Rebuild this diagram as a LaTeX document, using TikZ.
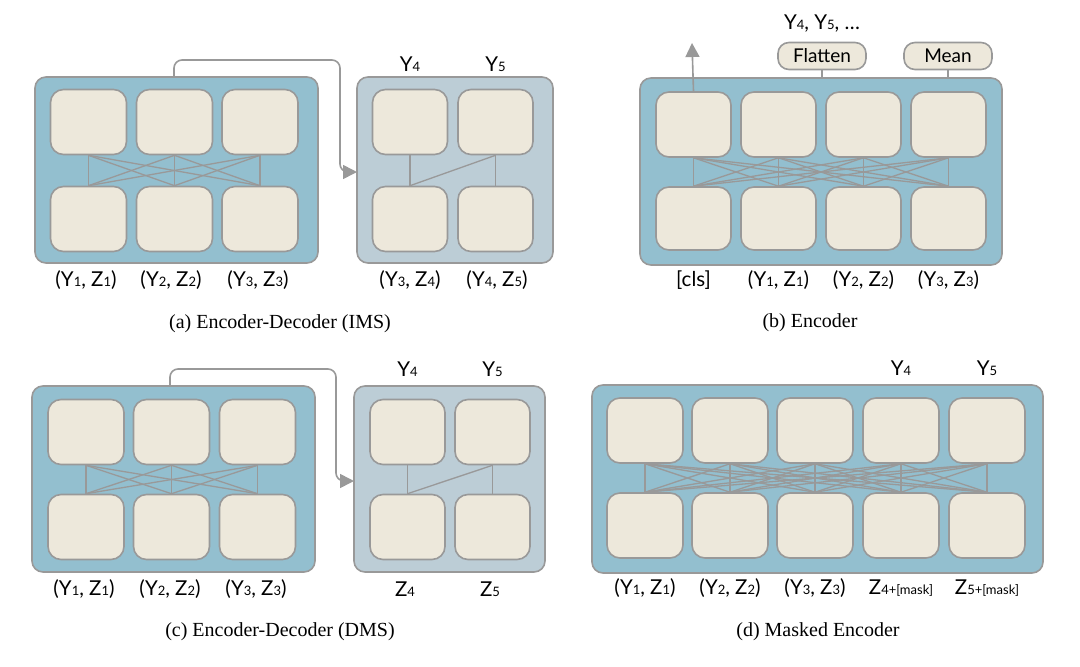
\documentclass[tikz,border=0pt]{standalone}
\usepackage{fontspec}
\setmainfont{Liberation Serif}
\newfontfamily\lab{Lato}
\usetikzlibrary{arrows.meta}
\definecolor{encb}{HTML}{93BFCF}
\definecolor{decb}{HTML}{BCCDD6}
\definecolor{cellc}{HTML}{EDE8DB}
\definecolor{gr}{HTML}{999999}
\newcommand{\ix}[1]{{\fontsize{13}{13}\selectfont #1}}
\tikzset{
 outer/.style={draw=gr,line width=1.6pt,fill=encb,rounded corners=11pt},
 dec/.style={draw=gr,line width=1.6pt,fill=decb,rounded corners=11pt},
 cell/.style={draw=gr,line width=1.6pt,fill=cellc,rounded corners=13pt,minimum width=76pt,minimum height=65pt,inner sep=0pt},
 pill/.style={draw=gr,line width=1.6pt,fill=cellc,rounded corners=11pt,minimum width=88pt,minimum height=27pt,font=\lab\fontsize{19}{19}\selectfont},
 link/.style={draw=gr,line width=1.3pt},
 lbl/.style={font=\lab\fontsize{20.5}{20.5}\selectfont,inner sep=0pt},
 captxt/.style={font=\fontsize{20}{20}\selectfont,inner sep=0pt},
 arr/.style={draw=gr,line width=1.6pt,rounded corners=8pt,-{Triangle[length=14pt,width=14pt]}}
}
\begin{document}
\begin{tikzpicture}[x=1pt,y=-1pt]
\useasboundingbox (0,0) rectangle (1080,667);
% ---------- (a) ----------
\node[outer,minimum width=283pt,minimum height=186pt] (aE) at (176.5,170) {};
\node[dec,minimum width=196pt,minimum height=186pt] (aD) at (455,170) {};
\foreach \i/\x in {1/88.5,2/174.5,3/260}{
 \node[cell] (at\i) at (\x,122) {};
 \node[cell] (ab\i) at (\x,219) {};}
\foreach \i in {1,2,3}{\foreach \j in {1,2,3}{\draw[link] (at\i.south) -- (ab\j.north);}}
\node[cell,minimum width=75pt] (adt1) at (410,122) {};
\node[cell,minimum width=75pt] (adt2) at (495.5,122) {};
\node[cell,minimum width=75pt] (adb1) at (410,219) {};
\node[cell,minimum width=75pt] (adb2) at (495.5,219) {};
\draw[link] (adb1.north) -- (adt1.south);
\draw[link] (adb1.north) -- (adt2.south);
\draw[link] (adb2.north) -- (adt2.south);
\coordinate (aAe) at (357,172);
\draw[arr] (174,77) -- (174,60) -- (340,60) -- (340,172) -- (aAe);
\node[lbl] (al1) at (86,280) {(Y\ix{1}, Z\ix{1})};
\node[lbl] (al2) at (171,280) {(Y\ix{2}, Z\ix{2})};
\node[lbl] (al3) at (258,280) {(Y\ix{3}, Z\ix{3})};
\node[lbl] (al4) at (410,280) {(Y\ix{3}, Z\ix{4})};
\node[lbl] (al5) at (497,280) {(Y\ix{4}, Z\ix{5})};
\node[lbl] (ay4) at (410,64) {Y\ix{4}};
\node[lbl] (ay5) at (495.5,64) {Y\ix{5}};
\node[captxt] (capa) at (280,324) {(a) Encoder-Decoder (IMS)};
% ---------- (c) ----------
\begin{scope}[yshift=-309pt]
\node[outer,minimum width=283pt,minimum height=186pt] (cE) at (173.5,170) {};
\node[dec,minimum width=191pt,minimum height=186pt] (cD) at (449.5,170) {};
\foreach \i/\x in {1/86,2/171.5,3/257.5}{
 \node[cell] (ct\i) at (\x,123) {};
 \node[cell] (cb\i) at (\x,218) {};}
\foreach \i in {1,2,3}{\foreach \j in {1,2,3}{\draw[link] (ct\i.south) -- (cb\j.north);}}
\node[cell,minimum width=75pt] (cdt1) at (407.5,123) {};
\node[cell,minimum width=75pt] (cdt2) at (492.5,123) {};
\node[cell,minimum width=75pt] (cdb1) at (407.5,218) {};
\node[cell,minimum width=75pt] (cdb2) at (492.5,218) {};
\draw[link] (cdb1.north) -- (cdt1.south);
\draw[link] (cdb1.north) -- (cdt2.south);
\draw[link] (cdb2.north) -- (cdt2.south);
\coordinate (cAe) at (354,172);
\draw[arr] (170,77) -- (170,60) -- (336,60) -- (336,172) -- (cAe);
\node[lbl] (cl1) at (84,280) {(Y\ix{1}, Z\ix{1})};
\node[lbl] (cl2) at (170,280) {(Y\ix{2}, Z\ix{2})};
\node[lbl] (cl3) at (256,280) {(Y\ix{3}, Z\ix{3})};
\node[lbl] (cl4) at (405,280) {Z\ix{4}};
\node[lbl] (cl5) at (490,280) {Z\ix{5}};
\node[lbl] (cy4) at (407.5,60) {Y\ix{4}};
\node[lbl] (cy5) at (492.5,60) {Y\ix{5}};
\node[captxt] (capc) at (280,323) {(c) Encoder-Decoder (DMS)};
\end{scope}
% ---------- (b) ----------
\node[outer,minimum width=362pt,minimum height=187pt] (bE) at (821,171.5) {};
\foreach \i/\x in {1/693.5,2/778.5,3/863.5,4/948.5}{
 \node[cell,minimum width=75pt] (bt\i) at (\x,124.5) {};
 \node[cell,minimum width=75pt,minimum height=63pt] (bb\i) at (\x,218.5) {};}
\foreach \i in {1,...,4}{\foreach \j in {1,...,4}{\draw[link] (bt\i.south) -- (bb\j.north);}}
\node[pill] (flat) at (822,56) {Flatten};
\node[pill] (mean) at (948,56) {Mean};
\draw[link] (flat.south) -- (flat.south |- bE.north);
\draw[link] (mean.south) -- (mean.south |- bE.north);
\coordinate (bAe) at (692,43);
\draw[arr] (bt1.north) -- (bAe);
\node[lbl] (by) at (822,24) {Y\ix{4}, Y\ix{5}, \dots};
\node[lbl] (bl1) at (693.5,280) {[cls]};
\node[lbl] (bl2) at (778.5,280) {(Y\ix{1}, Z\ix{1})};
\node[lbl] (bl3) at (863.5,280) {(Y\ix{2}, Z\ix{2})};
\node[lbl] (bl4) at (948.5,280) {(Y\ix{3}, Z\ix{3})};
\node[captxt] (capb) at (810,323) {(b) Encoder};
% ---------- (d) ----------
\node[outer,minimum width=451pt,minimum height=188pt] (dE) at (817.5,479) {};
\foreach \i/\x in {1/645,2/730,3/815,4/901,5/987}{
 \node[cell] (dt\i) at (\x,430.5) {};
 \node[cell] (db\i) at (\x,525.5) {};}
\foreach \i in {1,...,5}{\foreach \j in {1,...,5}{\draw[link] (dt\i.south) -- (db\j.north);}}
\node[lbl] (dl1) at (645,588) {(Y\ix{1}, Z\ix{1})};
\node[lbl] (dl2) at (730,588) {(Y\ix{2}, Z\ix{2})};
\node[lbl] (dl3) at (815,588) {(Y\ix{3}, Z\ix{3})};
\node[lbl] (dl4) at (901,588) {Z\ix{4+[mask]}};
\node[lbl] (dl5) at (987,588) {Z\ix{5+[mask]}};
\node[lbl] (dy4) at (901,368) {Y\ix{4}};
\node[lbl] (dy5) at (987,368) {Y\ix{5}};
\node[captxt] (capd) at (818,632) {(d) Masked Encoder};
\end{tikzpicture}
\end{document}
